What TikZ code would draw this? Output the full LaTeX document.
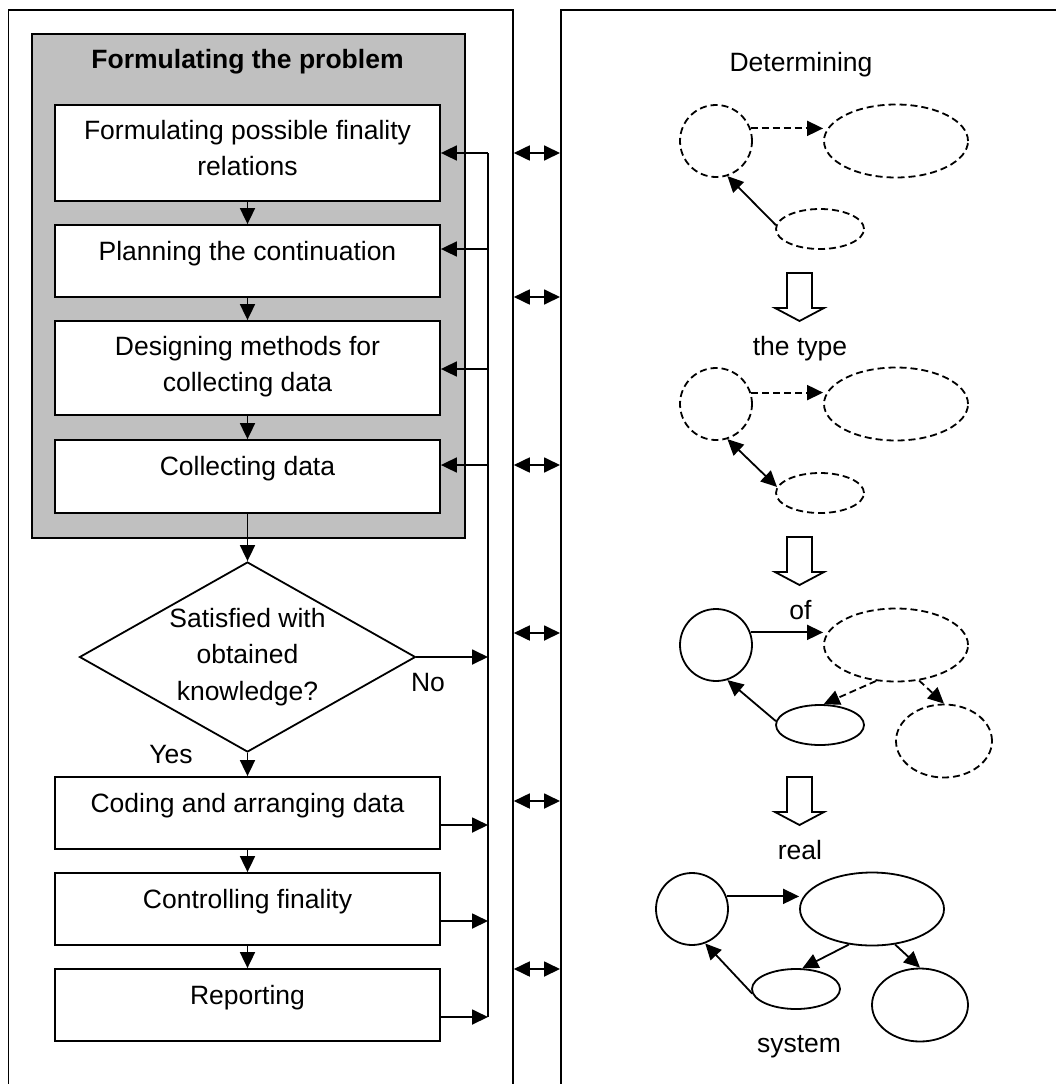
\documentclass[tikz,border=0pt]{standalone}
\usepackage{fontspec}
\setmainfont{Liberation Sans}
\usetikzlibrary{shapes.geometric,arrows.meta}
\definecolor{groupgray}{HTML}{C0C0C0}

\begin{document}
\begin{tikzpicture}[x=1pt,y=-1pt,line width=1.8pt,
  >={Triangle[length=16pt,width=15pt]},
  txt/.style={font=\fontsize{26.5}{36}\selectfont, inner sep=0pt},
  panel/.style={draw, rectangle, inner sep=0pt, anchor=north west},
  groupbox/.style={draw, fill=groupgray, rectangle, inner sep=0pt, anchor=north west},
  stepbox/.style={draw, fill=white, rectangle, inner sep=0pt, minimum width=385pt},
  decision/.style={draw, fill=white, diamond, aspect=1.77, inner sep=0pt,
    minimum width=336pt, minimum height=190pt, align=center,
    font=\fontsize{26.5}{36.5}\selectfont},
  dsh/.style={dash pattern=on 7pt off 4pt},
  ringnode/.style={draw, ellipse, inner sep=0pt, minimum width=72pt, minimum height=72pt},
  widenode/.style={draw, ellipse, inner sep=0pt, minimum width=144pt, minimum height=73pt},
  flatnode/.style={draw, ellipse, inner sep=0pt, minimum width=88pt, minimum height=40pt},
  roundnode/.style={draw, ellipse, inner sep=0pt, minimum width=96pt, minimum height=73pt},
  blockarrow/.style={draw, fill=white, line join=miter},
]
\useasboundingbox (0,0) rectangle (1056,1084);

% two column panels (open at the bottom)
\node[panel, minimum width=504.5pt, minimum height=1100pt] (lp) at (7.5,9) {};
\node[panel, minimum width=520pt, minimum height=1100pt] (rp) at (560,9) {};

% ---------- left column: process flow ----------
\node[groupbox, minimum width=433pt, minimum height=504pt] (grp) at (31,33) {};
\node[txt, anchor=base] (ttl) at (247.5,68) {\bfseries Formulating the problem};

\node[stepbox, minimum height=96pt] (f1) at (247.5,153) {};
\node[stepbox, minimum height=72pt] (f2) at (247.5,261) {};
\node[stepbox, minimum height=94pt] (f3) at (247.5,368) {};
\node[stepbox, minimum height=73pt] (f4) at (247.5,476.5) {};
\node[decision] (dec) at (247.5,657) {Satisfied with\\obtained\\knowledge?};
\node[stepbox, minimum height=72pt] (f5) at (247.5,813) {};
\node[stepbox, minimum height=72pt] (f6) at (247.5,909) {};
\node[stepbox, minimum height=72pt] (f7) at (247.5,1005) {};

\node[txt, align=center] (l1) at (247.5,148.5) {Formulating possible finality\\relations};
\node[txt, anchor=base] (l2) at (247.5,260) {Planning the continuation};
\node[txt, align=center] (l3) at (247.5,366.5) {Designing methods for\\collecting data};
\node[txt, anchor=base] (l4) at (247.5,475) {Collecting data};
\node[txt, anchor=base] (l5) at (247.5,812) {Coding and arranging data};
\node[txt, anchor=base] (l6) at (247.5,908) {Controlling finality};
\node[txt, anchor=base] (l7) at (247.5,1004) {Reporting};
\node[txt, anchor=base] (no) at (428,691) {No};
\node[txt, anchor=base] (yes) at (171,763) {Yes};

% main sequence
\draw[->] (f1.south) -- (f2.north);
\draw[->] (f2.south) -- (f3.north);
\draw[->] (f3.south) -- (f4.north);
\draw[->] (f4.south) -- (dec.north);
\draw[->] (dec.south) -- (f5.north);
\draw[->] (f5.south) -- (f6.north);
\draw[->] (f6.south) -- (f7.north);

% feedback bus
\coordinate (k1) at (488,153);
\coordinate (k2) at (488,249);
\coordinate (k3) at (488,369);
\coordinate (k4) at (488,465);
\coordinate (kn) at (488,657);
\coordinate (k5) at (488,825);
\coordinate (k6) at (488,921);
\coordinate (k7) at (488,1017);
\draw (k1) -- (k7);
\draw[->] (k1) -- (k1 -| f1.east);
\draw[->] (k2) -- (k2 -| f2.east);
\draw[->] (k3) -- (k3 -| f3.east);
\draw[->] (k4) -- (k4 -| f4.east);
\draw[->] (dec.east) -- (kn);
\draw[->] (k5 -| f5.east) -- (k5);
\draw[->] (k6 -| f6.east) -- (k6);
\draw[->] (k7 -| f7.east) -- (k7);

% links between the columns
\foreach \yy in {153,297,465,633,801,969}
  \draw[<->] (lp.east |- 0,\yy) -- (rp.west |- 0,\yy);

% ---------- right column: from type to real system ----------
\node[txt, anchor=base] (w1) at (801,71) {Determining};
\node[txt, anchor=base] (w2) at (800,355) {the type};
\node[txt, anchor=base] (w3) at (800.5,619) {of};
\node[txt, anchor=base] (w4) at (800,859) {real};
\node[txt, anchor=base] (w5) at (799,1052) {system};

% stage 1
\node[ringnode, dsh] (a1) at (716,141) {};
\node[widenode, dsh] (b1) at (896,141) {};
\node[flatnode, dsh] (c1) at (820,229) {};
\draw[->, dsh] (a1.20) -- (a1.20 -| b1.west);
\draw[->] (c1.175) -- (a1.-72);

% stage 2
\node[ringnode, dsh] (a2) at (716,404) {};
\node[widenode, dsh] (b2) at (896,404) {};
\node[flatnode, dsh] (c2) at (820,493) {};
\draw[->, dsh] (a2.18) -- (a2.18 -| b2.west);
\draw[<->] (a2.-72) -- (c2.172);

% stage 3
\node[ringnode] (a3) at (716,645) {};
\node[widenode, dsh] (b3) at (896,645) {};
\node[flatnode] (c3) at (820,725) {};
\node[roundnode, dsh] (d3) at (944,741) {};
\draw[->] (a3.20) -- (a3.20 -| b3.west);
\draw[->] (c3.175) -- (a3.-72);
\draw[->, dsh] (b3.241) -- (c3.80);
\draw[->, dsh] (b3.-57) -- (d3.north);

% stage 4
\node[ringnode] (a4) at (692,909) {};
\node[widenode] (b4) at (872,909) {};
\node[flatnode] (c4) at (796,989) {};
\node[roundnode] (d4) at (920,1005) {};
\draw[->] (a4.20) -- (a4.20 -| b4.west);
\draw[->] (c4.186) -- (a4.-69);
\draw[->] (b4.237) -- (c4.73);
\draw[->] (b4.-57) -- (d4.north);

% hollow block arrows between stages
\foreach \tt in {273,537,777}
  \draw[blockarrow] (787,\tt) -- (812,\tt) -- (812,\tt+35) -- (824,\tt+35)
    -- (799.5,\tt+48) -- (775,\tt+35) -- (787,\tt+35) -- cycle;

\end{tikzpicture}
\end{document}
